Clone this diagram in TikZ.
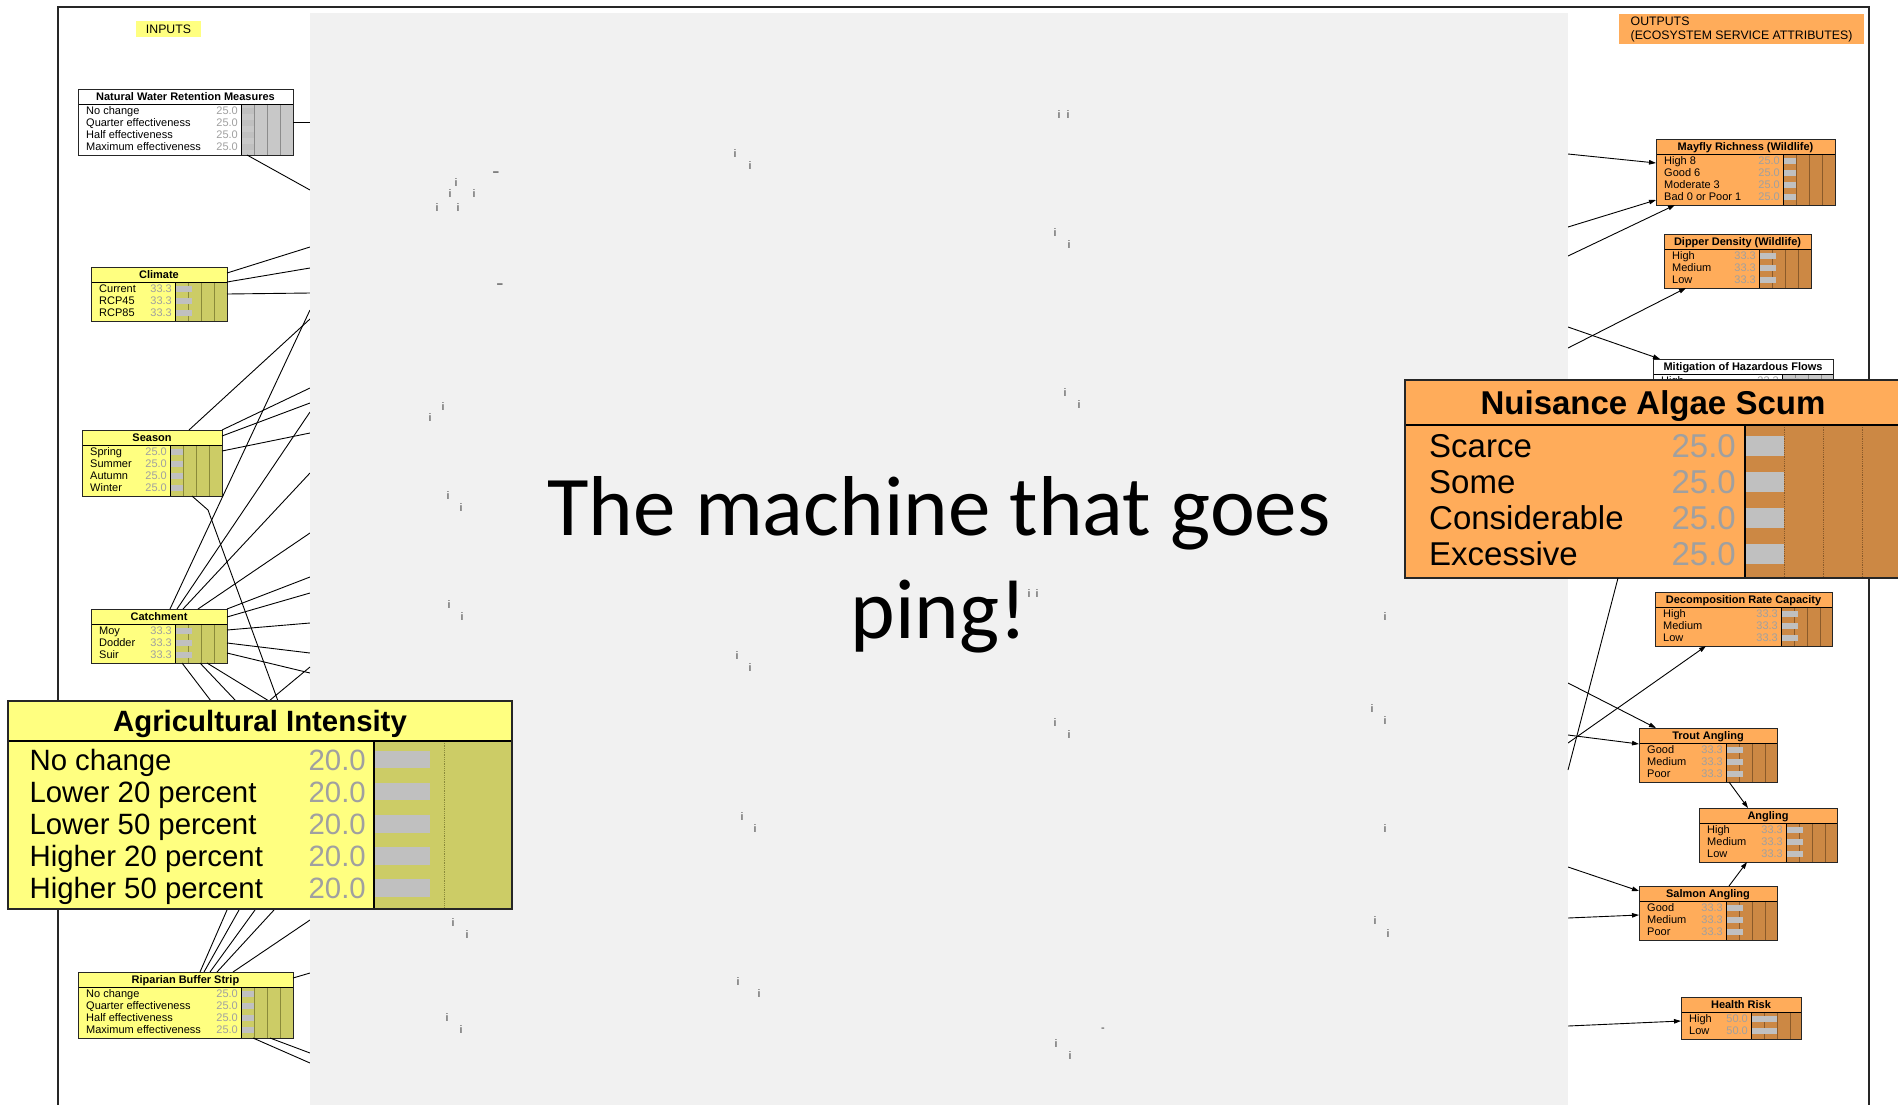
\documentclass[tikz,border=0pt]{standalone}
\usepackage{fontspec}
\setmainfont{Liberation Sans}
\newfontfamily\carlito{Carlito}
\usetikzlibrary{calc,arrows.meta}

\definecolor{yT}{HTML}{FFFF80}
\definecolor{yB}{HTML}{FFFF80}
\definecolor{yBar}{HTML}{CCCC66}
\definecolor{yLine}{HTML}{8A8A3A}
\definecolor{oT}{HTML}{FFAC5A}
\definecolor{oB}{HTML}{FFAC5A}
\definecolor{oBar}{HTML}{CC8844}
\definecolor{oLine}{HTML}{8A5A2A}
\definecolor{wT}{HTML}{FFFFFF}
\definecolor{wB}{HTML}{FFFFFF}
\definecolor{wBar}{HTML}{C8C8C8}
\definecolor{wLine}{HTML}{8C8C8C}
\definecolor{bnVal}{HTML}{A0A0A0}
\definecolor{bnGrey}{HTML}{C0C0C0}
\definecolor{panelgrey}{HTML}{F1F1F1}

\pgfkeys{/bn/.is family,/bn,
  x/.store in=\bnX, y/.store in=\bnY, w/.store in=\bnW, div/.store in=\bnDiv,
  s/.store in=\bnS, n/.store in=\bnN, gstep/.store in=\bnStep, grid/.store in=\bnGrid,
  theme/.code={\colorlet{bnT}{#1T}\colorlet{bnB}{#1B}\colorlet{bnBar}{#1Bar}\colorlet{bnLine}{#1Line}}}

\tikzset{
  bnbox/.style={anchor=north west, inner sep=0pt, outer sep=0pt},
  edge/.style={draw=black, line width=0.9pt},
  arr/.style={edge, -{Triangle[length=7pt,width=4.5pt]}},
  pi/.style={inner sep=0pt, text=black!80, font=\fontsize{11}{12}\selectfont},
  ttl/.style={anchor=base, inner sep=0pt, font=\carlito\fontsize{85}{102}\selectfont},
  lbl/.style={inner sep=0pt, outer sep=0pt, font=\fontsize{12.3}{14}\selectfont}
}

\newcommand\bnnode[4][]{%
  \pgfkeys{/bn/.cd,s=1,gstep=13,grid=solid,theme=y,#1}%
  \pgfmathsetmacro\bnH{(18+12*\bnN)*\bnS}%
  \pgfmathsetmacro\bnTH{15*\bnS}%
  \pgfmathsetmacro\bnFS{11*\bnS}%
  \pgfmathsetmacro\bnLS{13*\bnS}%
  \pgfmathsetmacro\bnLW{max(0.9,0.8*\bnS)}%
  \pgfmathsetmacro\bnTX{\bnW/2}%
  \pgfmathsetmacro\bnTY{\bnTH/2+0.37*\bnFS}%
  \pgfmathsetmacro\bnLX{8*\bnS}%
  \pgfmathsetmacro\bnVX{\bnDiv-3*\bnS}%
  \pgfmathsetmacro\bnBH{3.25*\bnS}%
  \node[bnbox, fill=bnB, minimum width=\bnW pt, minimum height=\bnH pt] (#2) at (\bnX,\bnY) {};%
  \fill[bnT] (#2.north west) rectangle ($(#2.north east)+(0,\bnTH)$);%
  \fill[bnBar] ($(#2.north west)+(\bnDiv,\bnTH)$) rectangle (#2.south east);%
  \foreach \bnK in {1,2,3}{%
    \pgfmathsetmacro\bnGX{\bnDiv+\bnK*\bnStep}%
    \ifdim\bnGX pt<\bnW pt
      \draw[bnLine, line width=0.8pt, \bnGrid] ($(#2.north west)+(\bnGX,\bnTH)$) -- ($(#2.south west)+(\bnGX,0)$);%
    \fi}%
  \foreach \bnLab/\bnVal/\bnPct [count=\bnI] in {#4}{%
    \pgfmathsetmacro\bnYc{\bnTH+(7+12*(\bnI-1))*\bnS}%
    \pgfmathsetmacro\bnYb{\bnYc+0.36*\bnFS}%
    \pgfmathsetmacro\bnBW{\bnPct/100*4*\bnStep}%
    \pgfmathsetmacro\bnBT{\bnYc-\bnBH}%
    \pgfmathsetmacro\bnBB{2*\bnBH}%
    \fill[bnGrey] ($(#2.north west)+(\bnDiv,\bnBT)$) rectangle ++(\bnBW,\bnBB);%
    \node[anchor=base west, inner sep=0pt, font={\fontsize{\bnFS}{\bnLS}\selectfont}] (#2-l\bnI) at ($(#2.north west)+(\bnLX,\bnYb)$) {\bnLab};%
    \node[anchor=base east, inner sep=0pt, text=bnVal, font={\fontsize{\bnFS}{\bnLS}\selectfont}] (#2-v\bnI) at ($(#2.north west)+(\bnVX,\bnYb)$) {\bnVal};%
  }%
  \node[anchor=base, inner sep=0pt, font={\bfseries\fontsize{\bnFS}{\bnLS}\selectfont}] (#2-t) at ($(#2.north west)+(\bnTX,\bnTY)$) {#3};%
  \draw[line width=\bnLW pt] ($(#2.north west)+(0,\bnTH)$) -- ($(#2.north east)+(0,\bnTH)$);%
  \draw[line width=\bnLW pt] ($(#2.north west)+(\bnDiv,\bnTH)$) -- ($(#2.south west)+(\bnDiv,0)$);%
  \draw[line width=\bnLW pt, black!85] (#2.north west) rectangle (#2.south east);%
}

\begin{document}
\begin{tikzpicture}[x=1pt,y=-1pt]
\useasboundingbox (0,0) rectangle (1898,1104);
\fill[white] (0,0) rectangle (1898,1104);

% frame
\draw[line width=2pt, black!85] (58,1110) -- (58,7) -- (1869,7) -- (1869,1110);

% labels
\node[lbl, fill=yT, minimum width=65pt, minimum height=16pt] (inputs) at (168.5,29) {INPUTS};
\node[lbl, fill=oT, anchor=north west, minimum width=245pt, minimum height=30pt, inner xsep=9pt, align=left] (outputs) at (1619,14) {OUTPUTS\\(ECOSYSTEM SERVICE ATTRIBUTES)};

% hidden end points at the panel edges
\foreach \n/\yy in {l1/122,l2/190,l3/247,l4/268,l5/293,l6/319,l7/388,l8/403,l9/433,
  l10/310,l11/412,l12/473,l13/533,l14/577,l15/593,l16/623,l17/653,l18/673,l19/667,
  l20/920,l21/973,l22/1063,l23/1053}
  \coordinate (\n) at (310,\yy);
\foreach \n/\yy in {h1/154,h2/227,h3/256,h4/327,h5/348,h6/770,h7/683,h8/743,h9/735,
  h10/867,h11/918,h12/1026}
  \coordinate (\n) at (1568,\yy);
\coordinate (sb) at (208,510);

% left nodes
\bnnode[x=78,y=89,w=215,div=163,n=4,theme=w]{nwrm}{Natural Water Retention Measures}
  {No change/25.0/25,Quarter effectiveness/25.0/25,Half effectiveness/25.0/25,Maximum effectiveness/25.0/25}
\bnnode[x=91,y=267,w=136,div=84,n=3]{climate}{Climate}
  {Current/33.3/33.3,RCP45/33.3/33.3,RCP85/33.3/33.3}
\bnnode[x=82,y=430,w=140,div=88,n=4]{season}{Season}
  {Spring/25.0/25,Summer/25.0/25,Autumn/25.0/25,Winter/25.0/25}
\bnnode[x=91,y=609,w=136,div=84,n=3]{catch}{Catchment}
  {Moy/33.3/33.3,Dodder/33.3/33.3,Suir/33.3/33.3}
\bnnode[x=78,y=972,w=215,div=163,n=4]{rip}{Riparian Buffer Strip}
  {No change/25.0/25,Quarter effectiveness/25.0/25,Half effectiveness/25.0/25,Maximum effectiveness/25.0/25}

% right nodes
\bnnode[x=1656,y=139,w=179,div=127,n=4,theme=o]{mayfly}{Mayfly Richness (Wildlife)}
  {High 8/25.0/25,Good 6/25.0/25,Moderate 3/25.0/25,Bad 0 or Poor 1/25.0/25}
\bnnode[x=1664,y=234,w=147,div=95,n=3,theme=o]{dipper}{Dipper Density (Wildlife)}
  {High/33.3/33.3,Medium/33.3/33.3,Low/33.3/33.3}
\bnnode[x=1653,y=359,w=180,div=129,n=3,theme=w]{mitig}{Mitigation of Hazardous Flows}
  {High/33.3/33.3}
\bnnode[x=1655,y=592,w=177,div=126,n=3,theme=o]{decomp}{Decomposition Rate Capacity}
  {High/33.3/33.3,Medium/33.3/33.3,Low/33.3/33.3}
\bnnode[x=1639,y=728,w=138,div=87,n=3,theme=o]{trout}{Trout Angling}
  {Good/33.3/33.3,Medium/33.3/33.3,Poor/33.3/33.3}
\bnnode[x=1699,y=808,w=138,div=87,n=3,theme=o]{angling}{Angling}
  {High/33.3/33.3,Medium/33.3/33.3,Low/33.3/33.3}
\bnnode[x=1639,y=886,w=138,div=87,n=3,theme=o]{salmon}{Salmon Angling}
  {Good/33.3/33.3,Medium/33.3/33.3,Poor/33.3/33.3}
\bnnode[x=1681,y=997,w=120,div=70,n=2,theme=o]{health}{Health Risk}
  {High/50.0/50,Low/50.0/50}

% left connectors
\draw[edge] (nwrm.east) -- (l1);
\draw[edge] ([xshift=169pt]nwrm.south west) -- (l2);
\draw[edge] ([yshift=-6pt]climate.north east) -- (l3);
\draw[edge] ([yshift=-15pt]climate.north east) -- (l4);
\draw[edge] (climate.east) -- (l5);
\draw[edge] ([xshift=107pt]season.north west) -- (l6);
\draw[edge] (season.north east) -- (l7);
\draw[edge] ([yshift=-6pt]season.north east) -- (l8);
\draw[edge] ([yshift=-21pt]season.north east) -- (l9);
\draw[edge] ([xshift=79pt]catch.north west) -- (l10);
\draw[edge] ([xshift=86pt]catch.north west) -- (l11);
\draw[edge] ([xshift=92pt]catch.north west) -- (l12);
\draw[edge] ([xshift=107pt]catch.north west) -- (l13);
\draw[edge] (catch.north east) -- (l14);
\draw[edge] ([yshift=-8pt]catch.north east) -- (l15);
\draw[edge] ([yshift=-21pt]catch.north east) -- (l16);
\draw[edge] ([yshift=-34pt]catch.north east) -- (l17);
\draw[edge] ([yshift=-44pt]catch.north east) -- (l18);
\draw[edge] ([xshift=-60pt]rip.north east) -- (l20);
\draw[edge] ([yshift=-6pt]rip.north east) -- (l21);
\draw[edge] ([xshift=175pt]rip.south west) -- (l22);
\draw[edge] ([xshift=192pt]rip.south west) -- (l23);

% right connectors
\draw[arr] (h1) -- ([yshift=9pt]mayfly.west);
\draw[arr] (h2) -- ([yshift=5pt]mayfly.south west);
\draw[arr] (h3) -- ([xshift=19pt]mayfly.south west);
\draw[arr] (h4) -- ([xshift=7pt]mitig.north west);
\draw[arr] (h5) -- ([xshift=22pt]dipper.south west);
\draw[arr] (h7) -- ([xshift=17pt]trout.north west);
\draw[arr] (h8) -- ([xshift=51pt]decomp.south west);
\draw[arr] (h9) -- ([yshift=11pt]trout.west);
\draw[arr] ([xshift=90pt]trout.south west) -- ([xshift=49pt]angling.north west);
\draw[arr] ([xshift=90pt]salmon.north west) -- ([xshift=48pt]angling.south west);
\draw[arr] (h10) -- ([yshift=-5pt]salmon.north west);
\draw[arr] (h11) -- ([yshift=-2pt]salmon.west);
\draw[arr] (h12) -- ([yshift=-3pt]health.west);

% grey panel
\node[bnbox, fill=panelgrey, minimum width=1258pt, minimum height=1100pt] (panel) at (310,13) {};
\foreach \px/\py [count=\k] in {456/183,450/194,474/194,437/208,458/208,
  735/154,750/166,1059/115,1068/115,1055/233,1069/245,443/407,430/418,1065/393,1079/405,
  448/496,461/508,449/605,462/617,1029/594,1037/594,1385/617,737/656,750/668,
  1372/709,1385/721,1055/723,1069/735,742/816,755/828,1385/828,453/922,467/934,
  1375/920,1388/933,738/981,759/993,447/1017,461/1029,1056/1043,1070/1055}
  \node[pi] (pi\k) at (\px,\py) {i};
\node[pi] (pd1) at (496,174) {\textbf{–}};
\node[pi] (pd2) at (500,286) {\textbf{–}};
\node[pi] (pd3) at (1103,1030) {-};
\node[ttl] (title1) at (939,535) {The machine that goes};
\node[ttl] (title2) at (939,638) {ping!};

% lines into the agricultural intensity box (drawn under it)
\coordinate (aiN) at (8,701);
\coordinate (aiS) at (8,910);
\draw[edge] ([xshift=110pt]season.south west) -- (sb) -- ($(aiN)+(270,0)$);
\draw[edge] ([xshift=91pt]catch.south west) -- ($(aiN)+(203,0)$);
\draw[edge] ([xshift=109pt]catch.south west) -- ($(aiN)+(228,0)$);
\draw[edge] ([xshift=116pt]catch.south west) -- ($(aiN)+(261,0)$);
\draw[edge] (l19) -- ($(aiN)+(261,0)$);
\draw[edge] ([xshift=122pt]rip.north west) -- ($(aiS)+(219,0)$);
\draw[edge] ([xshift=126pt]rip.north west) -- ($(aiS)+(231,0)$);
\draw[edge] ([xshift=132pt]rip.north west) -- ($(aiS)+(247,0)$);
\draw[edge] ([xshift=139pt]rip.north west) -- ($(aiS)+(266,0)$);

% enlarged nodes
\bnnode[x=8,y=701,w=504,div=366,n=5,s=2.67,gstep=70,grid=densely dotted]{ai}{Agricultural Intensity}
  {No change/20.0/20,Lower 20 percent/20.0/20,Lower 50 percent/20.0/20,Higher 20 percent/20.0/20,Higher 50 percent/20.0/20}
\bnnode[x=1405,y=380,w=496,div=340,n=4,s=3,gstep=39,grid=densely dotted,theme=o]{nas}{Nuisance Algae Scum}
  {Scarce/25.0/25,Some/25.0/25,Considerable/25.0/25,Excessive/25.0/25}
\draw[edge] ([xshift=213pt]nas.south west) -- (h6);
\end{tikzpicture}
\end{document}
